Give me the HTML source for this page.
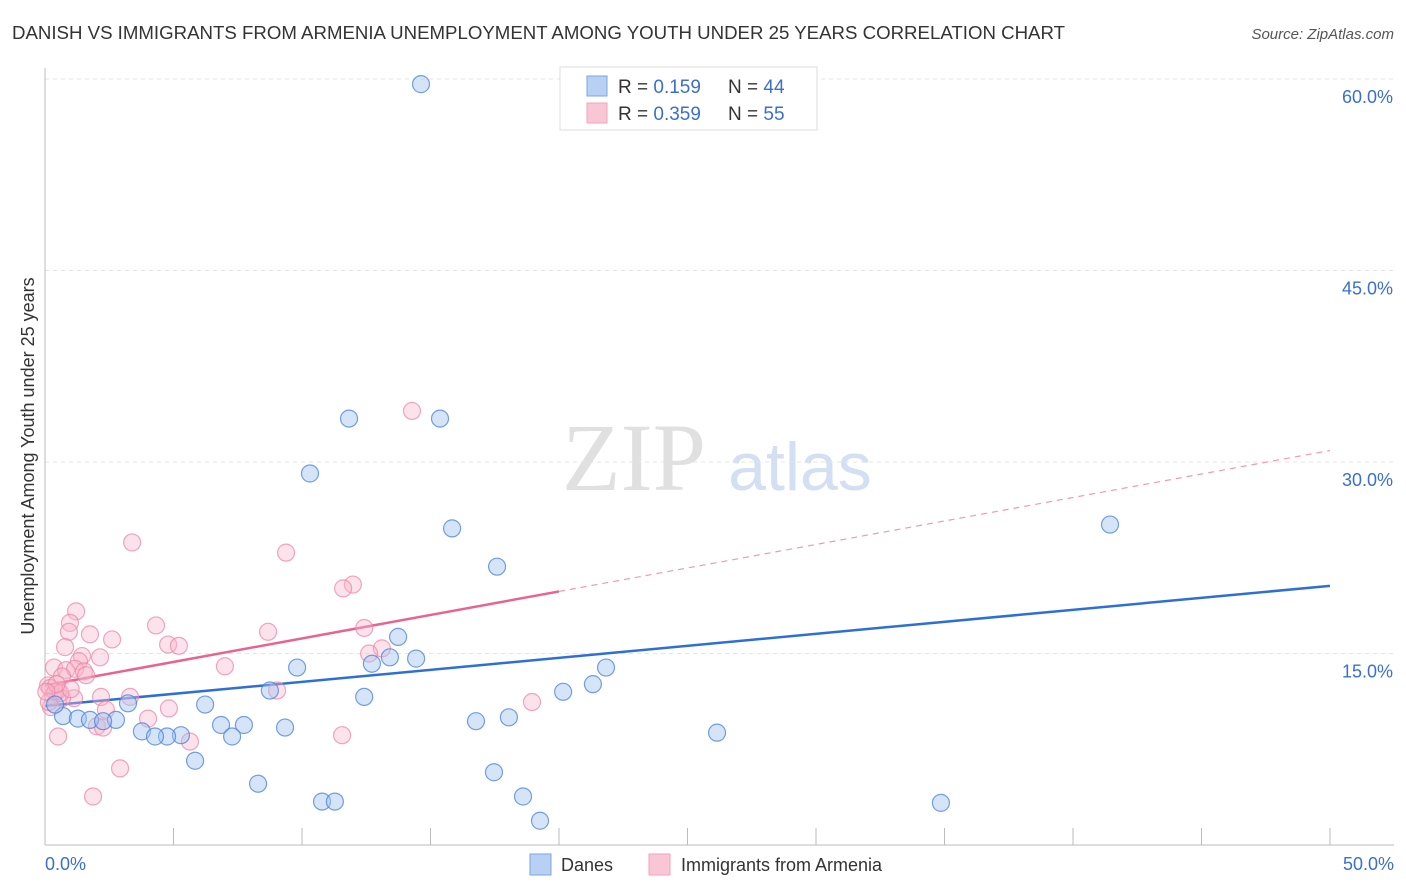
<!DOCTYPE html>
<html><head><meta charset="utf-8"><style>
body{margin:0;background:#fff;font-family:"Liberation Sans",sans-serif;}
svg{display:block}
</style></head><body>
<svg id="chart" width="1406" height="892">
<text x="12" y="39" font-size="18" fill="#333" textLength="1053" lengthAdjust="spacingAndGlyphs">DANISH VS IMMIGRANTS FROM ARMENIA UNEMPLOYMENT AMONG YOUTH UNDER 25 YEARS CORRELATION CHART</text>
<text x="1394" y="39" font-size="15" fill="#555" font-style="italic" text-anchor="end">Source: ZipAtlas.com</text>
<text x="634" y="490" font-size="96" fill="#e0e0e0" font-family="Liberation Serif,serif" text-anchor="middle">ZIP</text>
<text x="800" y="490" font-size="68" fill="#d3dff3" text-anchor="middle">atlas</text>
<g id="grid"></g>
<g id="axes"></g>
<g id="trends"></g>
<g id="points"></g>
<text transform="translate(34,456) rotate(-90)" font-size="18" fill="#333" text-anchor="middle">Unemployment Among Youth under 25 years</text>
<text x="45" y="870" font-size="18" fill="#3a6fd0">0.0%</text>
<text x="1394" y="870" font-size="18" fill="#3a6fd0" text-anchor="end">50.0%</text>
<g>
<rect x="560" y="67" width="257" height="63" fill="#fff" stroke="#ddd"/>
<rect x="587" y="76" width="20" height="20" fill="#b7d0f3" stroke="#7aa6e6"/>
<rect x="587" y="103" width="20" height="20" fill="#f9c6d5" stroke="#f2a3bb"/>
<text x="618" y="93" font-size="19" fill="#333">R = <tspan fill="#3a6fd0">0.159</tspan><tspan x="728">N = </tspan><tspan fill="#3a6fd0">44</tspan></text>
<text x="618" y="120" font-size="19" fill="#333">R = <tspan fill="#3a6fd0">0.359</tspan><tspan x="728">N = </tspan><tspan fill="#3a6fd0">55</tspan></text>
</g>
<g>
<rect x="530" y="854" width="21" height="21" fill="#b7d0f3" stroke="#7aa6e6"/>
<text x="561" y="871" font-size="18" fill="#333">Danes</text>
<rect x="649" y="854" width="21" height="21" fill="#f9c6d5" stroke="#f2a3bb"/>
<text x="681" y="871" font-size="18" fill="#333">Immigrants from Armenia</text>
</g>
</svg>
<script>
const yTicks=[15,30,45,60];
const yTickLabels=["15.0%","30.0%","45.0%","60.0%"];
const xTicks=[0,5,10,15,20,25,30,35,40,45,50];
const blueX=[14.63,11.83,15.37,10.31,15.84,17.59,41.44,13.74,13.42,14.44,12.72,9.81,21.83,21.32,20.16,8.75,12.42,3.23,6.23,0.70,1.28,1.75,2.76,2.26,18.05,16.77,6.85,7.74,9.34,3.77,5.29,4.75,4.28,7.28,26.15,5.84,8.29,17.47,18.60,10.78,11.28,19.26,34.86,0.39];
const blueY=[59.6,33.4,33.4,29.1,24.8,21.8,25.1,16.3,14.7,14.6,14.2,13.9,13.9,12.6,12.0,12.1,11.6,11.1,11.0,10.1,9.9,9.8,9.8,9.7,10.0,9.7,9.4,9.4,9.2,8.9,8.6,8.5,8.5,8.5,8.8,6.6,4.8,5.7,3.8,3.4,3.4,1.9,3.3,11.0];
const pinkX=[14.28,3.39,9.38,11.98,11.60,1.21,0.97,4.32,0.93,12.42,8.68,1.75,2.61,4.79,5.21,0.78,13.11,12.61,1.44,2.14,1.32,0.35,0.82,1.17,7.00,1.52,0.66,0.12,0.51,9.03,0.31,2.18,3.31,1.13,0.66,0.23,2.37,4.82,18.95,4.01,2.02,2.26,5.64,11.56,0.51,2.92,1.87,0.2,0.4,0.6,1.0,0.15,0.45,1.6,0.05];
const pinkY=[34.0,23.7,22.9,20.4,20.1,18.3,17.4,17.2,16.7,17.0,16.7,16.5,16.1,15.7,15.6,15.5,15.4,15.0,14.8,14.7,14.4,13.9,13.7,13.8,14.0,13.6,13.2,12.5,12.1,12.1,11.7,11.6,11.6,11.5,11.5,10.8,10.6,10.7,11.2,9.9,9.3,9.2,8.1,8.6,8.5,6.0,3.8,12.3,12.0,11.9,12.2,11.2,12.6,13.3,12.0];
const blueTrend=[10.9,0.188];
const pinkTrend=[12.5,0.368];
const pinkSolidEnd=20;
const X=v=>45+v*1285/50, Y=v=>845-v*766/60;
const NS="http://www.w3.org/2000/svg";
function mk(tag,attrs,parent){const e=document.createElementNS(NS,tag);for(const k in attrs)e.setAttribute(k,attrs[k]);parent.appendChild(e);return e;}
const grid=document.getElementById('grid'),axes=document.getElementById('axes'),tr=document.getElementById('trends'),pts=document.getElementById('points');
yTicks.forEach((t,i)=>{
 const l=mk('line',{x1:45,x2:1394,y1:Y(t),y2:Y(t),stroke:'#e4e4e4','stroke-dasharray':'4,4'},grid);
 
 
 const tx=mk('text',{x:1393,y:Y(t)+24,'font-size':18,fill:'#3a6fd0','text-anchor':'end'},grid);
 tx.textContent=yTickLabels[i];
 
 
});
const ya=mk('line',{x1:45,x2:45,y1:68,y2:845,stroke:'#bbb'},axes);


const xa=mk('line',{x1:45,x2:1394,y1:845,y2:845,stroke:'#bbb'},axes);


xTicks.forEach(t=>{
 const l=mk('line',{x1:X(t),x2:X(t),y1:828,y2:845,stroke:'#bbb'},axes);
 
 
});
function dot(x,y,fill,stroke,name){
 const c=mk('circle',{cx:X(x),cy:Y(y),r:8.5,fill:fill,stroke:stroke,'stroke-width':1.2},pts);
 
 
}
pinkX.forEach((x,i)=>dot(x,pinkY[i],'rgba(248,182,202,0.4)','rgba(236,130,162,0.7)','armenia-point'));
blueX.forEach((x,i)=>dot(x,blueY[i],'rgba(164,196,240,0.45)','rgba(70,130,220,0.75)','danes-point'));
const bt=mk('line',{x1:X(0),y1:Y(blueTrend[0]),x2:X(50),y2:Y(blueTrend[0]+50*blueTrend[1]),stroke:'#2e6fd6','stroke-width':2.5},tr);


const pt=mk('line',{x1:X(0),y1:Y(pinkTrend[0]),x2:X(pinkSolidEnd),y2:Y(pinkTrend[0]+pinkSolidEnd*pinkTrend[1]),stroke:'#e8638e','stroke-width':2.5},tr);


const pd=mk('line',{x1:X(pinkSolidEnd),y1:Y(pinkTrend[0]+pinkSolidEnd*pinkTrend[1]),x2:X(50),y2:Y(pinkTrend[0]+50*pinkTrend[1]),stroke:'#ee9ab5','stroke-width':1.2,'stroke-dasharray':'6,5'},tr);


</script>
</body></html>
